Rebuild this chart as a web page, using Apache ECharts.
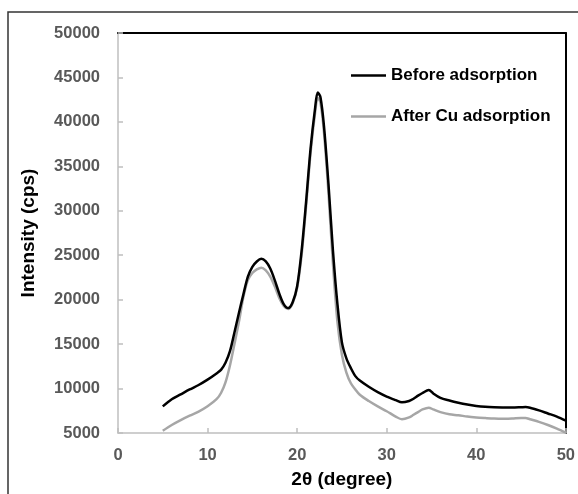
<!DOCTYPE html>
<html>
<head>
<meta charset="utf-8">
<script src="https://cdn.jsdelivr.net/npm/echarts@6/dist/echarts.min.js"></script>
<style>html,body{margin:0;padding:0;background:#fff;}#chart{width:578px;height:494px;}</style>
</head>
<body>
<div id="chart"></div>
<script>
var twoTheta = [5, 6, 7, 8, 9, 10, 11, 11.5, 12, 12.5, 13, 13.5, 14, 14.5, 15, 15.5, 16, 16.5, 17, 17.5, 18, 18.5, 19, 19.5, 20, 20.5, 21, 21.5, 22, 22.3, 22.6, 23, 23.5, 24, 24.5, 25, 25.5, 26, 26.5, 27, 28, 29, 30, 31, 31.7, 32.5, 33, 33.5, 34, 34.7, 35.2, 36, 37, 38, 39, 40, 41, 42, 43, 44, 45, 45.5, 46, 47, 48, 49, 50];
var beforeAds = [8000, 8800, 9350, 9900, 10400, 11000, 11700, 12100, 12900, 14200, 16300, 18500, 20600, 22600, 23700, 24300, 24600, 24300, 23500, 22200, 20700, 19500, 19050, 19700, 21500, 25500, 31000, 37000, 41500, 43300, 42800, 39500, 33000, 25500, 19500, 15200, 13400, 12300, 11400, 10900, 10200, 9600, 9100, 8700, 8450, 8600, 8850, 9200, 9500, 9850, 9450, 8950, 8650, 8400, 8200, 8050, 7950, 7900, 7880, 7870, 7900, 7920, 7850, 7550, 7200, 6850, 6400];
var afterCuAds = [5250, 5900, 6450, 6950, 7400, 8000, 8800, 9500, 10700, 12600, 15000, 17500, 20300, 22200, 23000, 23400, 23600, 23300, 22600, 21500, 20200, 19300, 18950, 19600, 21300, 25000, 30500, 36500, 41000, 42700, 42200, 38800, 32000, 24000, 17500, 13800, 11800, 10600, 9900, 9300, 8600, 8000, 7450, 6850, 6550, 6750, 7050, 7350, 7650, 7850, 7650, 7350, 7100, 7000, 6850, 6750, 6680, 6620, 6600, 6620, 6700, 6700, 6550, 6250, 5900, 5500, 5050];
var seriesNames = ['Before adsorption', 'After Cu adsorption'];
var xTitle = '2θ (degree)';
var yTitle = 'Intensity (cps)';

function pairs(xs, ys) { return xs.map(function (x, i) { return [x, ys[i]]; }); }

var chart = echarts.init(document.getElementById('chart'), null, { renderer: 'canvas' });
var FONT = 'Liberation Sans, Arial, sans-serif';
var labelStyle = { color: '#595959', fontSize: 16.5, fontWeight: 'bold', fontFamily: FONT };
var titleStyle = { color: '#000', fontSize: 19, fontWeight: 'bold', fontFamily: FONT };
function plain(v) { return String(v); }
chart.setOption({
  animation: false,
  backgroundColor: '#fff',
  grid: { left: 118, right: 10, top: 33, bottom: 57, containLabel: false },
  graphic: [{
    type: 'rect', shape: { x: 8, y: 12, width: 620, height: 620 },
    style: { fill: 'none', stroke: '#333', lineWidth: 1.5 }, silent: true, z: -1
  }],
  legend: {
    orient: 'vertical', left: 346, top: 62, itemWidth: 35, itemHeight: 2.5, itemGap: 24,
    icon: 'rect',
    textStyle: { color: '#000', fontSize: 17, fontWeight: 'bold', fontFamily: FONT },
    data: seriesNames
  },
  xAxis: [{
    type: 'value', min: 0, max: 50, interval: 10,
    name: xTitle, nameLocation: 'middle', nameGap: 37, nameTextStyle: titleStyle,
    axisLine: { show: true, lineStyle: { color: '#bfbfbf', width: 1.5 } },
    axisTick: { show: true, inside: true, length: 5, lineStyle: { color: '#bfbfbf', width: 1.5 } },
    axisLabel: Object.assign({ margin: 14, formatter: plain }, labelStyle),
    splitLine: { show: false }
  }, {
    type: 'value', position: 'top', min: 0, max: 50,
    axisLine: { show: true, onZero: false, lineStyle: { color: '#000', width: 2 } },
    axisTick: { show: false }, axisLabel: { show: false }, splitLine: { show: false }
  }],
  yAxis: [{
    type: 'value', min: 5000, max: 50000, interval: 5000,
    name: yTitle, nameLocation: 'middle', nameGap: 80, nameTextStyle: titleStyle,
    axisLine: { show: true, lineStyle: { color: '#bfbfbf', width: 1.5 } },
    axisTick: { show: true, inside: true, length: 5, lineStyle: { color: '#bfbfbf', width: 1.5 } },
    axisLabel: Object.assign({ margin: 18, formatter: plain }, labelStyle),
    splitLine: { show: false }
  }, {
    type: 'value', position: 'right', min: 5000, max: 50000,
    axisLine: { show: true, onZero: false, lineStyle: { color: '#000', width: 2 } },
    axisTick: { show: false }, axisLabel: { show: false }, splitLine: { show: false }
  }],
  series: [{
    name: seriesNames[0], type: 'line', data: pairs(twoTheta, beforeAds),
    showSymbol: false, smooth: 0.3, z: 3,
    lineStyle: { color: '#000', width: 2.5 }, itemStyle: { color: '#000' }
  }, {
    name: seriesNames[1], type: 'line', data: pairs(twoTheta, afterCuAds),
    showSymbol: false, smooth: 0.3, z: 2,
    lineStyle: { color: '#a6a6a6', width: 2.5 }, itemStyle: { color: '#a6a6a6' }
  }]
});
</script>
</body>
</html>
